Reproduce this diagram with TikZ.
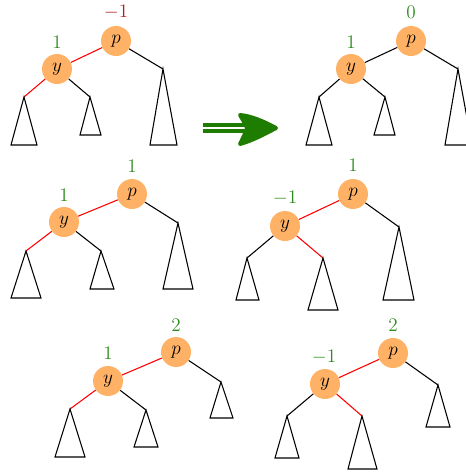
\documentclass[tikz,border=0pt]{standalone}
\usepackage{xcolor}
\definecolor{nodeor}{rgb}{1,0.7,0.4}
\definecolor{lblgreen}{RGB}{45,140,30}
\definecolor{lblred}{RGB}{180,30,30}
\definecolor{arrgreen}{RGB}{30,125,0}
\tikzset{
  vert/.style={circle, fill=nodeor, minimum size=22.5pt, inner sep=0pt, font=\fontsize{15}{17}\selectfont},
  bal/.style={text=lblgreen, inner sep=0pt, font=\fontsize{15}{17}\selectfont},
  balneg/.style={bal, text=lblred},
  edge/.style={line width=0.8pt},
  redge/.style={edge, draw=red},
  subtree/.style={line width=0.8pt, line join=miter},
}
\begin{document}
\begin{tikzpicture}[x=0.75pt, y=-0.75pt]
\useasboundingbox (0,0) rectangle (466,472);
\clip (0,0) rectangle (466,472);
% ---------- panel 1 ----------
\node[vert] (p1) at (116,41) {$p$};
\node[vert] (y1) at (57,69) {$y$};
\node[balneg] (bp1) at (116,12) {$-1$};
\node[bal] (by1) at (57,42) {$1$};
\coordinate (a1) at (24,97); \coordinate (b1) at (90,97); \coordinate (c1) at (163,69);
\draw[redge] (y1) -- (p1); \draw[redge] (y1) -- (a1);
\draw[edge] (y1) -- (b1); \draw[edge] (p1) -- (c1);
\draw[subtree] (a1) -- (11,145) -- (37,145) -- cycle;
\draw[subtree] (b1) -- (80,135) -- (101,135) -- cycle;
\draw[subtree] (c1) -- (150,145) -- (177,145) -- cycle;
% ---------- arrow ----------
\coordinate (ar0) at (203,128); \coordinate (ar1) at (256,128);
\draw[arrgreen, line width=2.7pt, double=white, double distance=1.5pt] (ar0) -- (ar1);
\fill[arrgreen, draw=arrgreen, line width=3pt, line join=round]
  (276,128) .. controls (263,121) and (251,116) .. (240,115)
  .. controls (243,120) and (246,125) .. (247,128)
  .. controls (246,132) and (243,138) .. (240,144)
  .. controls (251,141) and (263,135) .. (276,128) -- cycle;
% ---------- panel 2 ----------
\node[vert] (p2) at (411,41) {$p$};
\node[vert] (y2) at (351,69) {$y$};
\node[bal] (bp2) at (411,12) {$0$};
\node[bal] (by2) at (351,42) {$1$};
\coordinate (a2) at (319,97); \coordinate (b2) at (385,97); \coordinate (c2) at (458,69);
\draw[edge] (y2) -- (p2); \draw[edge] (y2) -- (a2);
\draw[edge] (y2) -- (b2); \draw[edge] (p2) -- (c2);
\draw[subtree] (a2) -- (306,145) -- (332,145) -- cycle;
\draw[subtree] (b2) -- (374,135) -- (395,135) -- cycle;
\draw[subtree] (c2) -- (445,145) -- (472,145) -- cycle;
% ---------- panel 3 ----------
\node[vert] (p3) at (132,194) {$p$};
\node[vert] (y3) at (64,222) {$y$};
\node[bal] (bp3) at (132,166) {$1$};
\node[bal] (by3) at (64,195) {$1$};
\coordinate (a3) at (26,251); \coordinate (b3) at (101,251); \coordinate (c3) at (178,223);
\draw[redge] (y3) -- (p3); \draw[redge] (y3) -- (a3);
\draw[edge] (y3) -- (b3); \draw[edge] (p3) -- (c3);
\draw[subtree] (a3) -- (11,298) -- (41,298) -- cycle;
\draw[subtree] (b3) -- (90,289) -- (114,289) -- cycle;
\draw[subtree] (c3) -- (163,289) -- (193,289) -- cycle;
% ---------- panel 4 ----------
\node[vert] (p4) at (353,194) {$p$};
\node[vert] (y4) at (285,226) {$y$};
\node[bal] (bp4) at (353,165) {$1$};
\node[bal] (by4) at (285,198) {$-1$};
\coordinate (a4) at (247,258); \coordinate (b4) at (323,258); \coordinate (c4) at (399,227);
\draw[redge] (y4) -- (p4); \draw[edge] (y4) -- (a4);
\draw[redge] (y4) -- (b4); \draw[edge] (p4) -- (c4);
\draw[subtree] (a4) -- (236,300) -- (259,300) -- cycle;
\draw[subtree] (b4) -- (308,310) -- (338,310) -- cycle;
\draw[subtree] (c4) -- (383,300) -- (414,300) -- cycle;
% ---------- panel 5 ----------
\node[vert] (p5) at (176,352) {$p$};
\node[vert] (y5) at (108,381) {$y$};
\node[bal] (bp5) at (176,325) {$2$};
\node[bal] (by5) at (108,353) {$1$};
\coordinate (a5) at (70,409); \coordinate (b5) at (146,410); \coordinate (c5) at (221,382);
\draw[redge] (y5) -- (p5); \draw[redge] (y5) -- (a5);
\draw[edge] (y5) -- (b5); \draw[edge] (p5) -- (c5);
\draw[subtree] (a5) -- (55,457) -- (85,457) -- cycle;
\draw[subtree] (b5) -- (134,447) -- (158,447) -- cycle;
\draw[subtree] (c5) -- (210,418) -- (233,418) -- cycle;
% ---------- panel 6 ----------
\node[vert] (p6) at (393,353) {$p$};
\node[vert] (y6) at (325,384) {$y$};
\node[bal] (bp6) at (393,325) {$2$};
\node[bal] (by6) at (324,357) {$-1$};
\coordinate (a6) at (287,416); \coordinate (b6) at (362,416); \coordinate (c6) at (438,385);
\draw[redge] (y6) -- (p6); \draw[edge] (y6) -- (a6);
\draw[redge] (y6) -- (b6); \draw[edge] (p6) -- (c6);
\draw[subtree] (a6) -- (275,458) -- (299,458) -- cycle;
\draw[subtree] (b6) -- (348,469) -- (377,469) -- cycle;
\draw[subtree] (c6) -- (426,427) -- (450,427) -- cycle;
\end{tikzpicture}
\end{document}
